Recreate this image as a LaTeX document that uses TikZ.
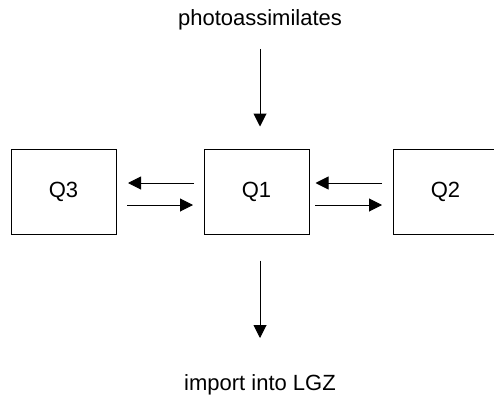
\documentclass[tikz,border=0pt]{standalone}
\usepackage{fontspec}
\setmainfont{Liberation Sans}
\usepackage{tikz}
\usetikzlibrary{arrows.meta}

\begin{document}
\begin{tikzpicture}[x=1pt, y=-1pt, font=\fontsize{22}{26}\selectfont,
    box/.style={draw, line width=1pt, minimum width=105pt, minimum height=85pt, inner sep=0pt},
    arr/.style={line width=1pt, -{Triangle[length=13pt, width=13pt]}}]
    \clip (0,0) rectangle (494,401);

    % Pools
    \node[box] (q3) at (63.5,191.5) {Q3};
    \node[box] (q1) at (256.5,191.5) {Q1};
    \node[box] (q2) at (445.5,191.5) {Q2};

    % Input and output
    \node (photo) at (260,20) {photoassimilates};
    \node (lgz) at (260,385) {import into LGZ};
    \coordinate (inTop) at (260,49);
    \coordinate (outBot) at (260,338);
    \draw[arr, shorten >=22pt] (inTop) -- (inTop |- q1.north);
    \draw[arr, shorten <=26pt] (q1.south -| outBot) -- (outBot);

    % Exchange between pools
    \draw[arr, shorten <=9.5pt, shorten >=11.5pt] ([yshift=8.5pt]q1.west) -- ([yshift=8.5pt]q3.east);
    \draw[arr, shorten <=10.5pt, shorten >=10.5pt] ([yshift=-13.5pt]q3.east) -- ([yshift=-13.5pt]q1.west);
    \draw[arr, shorten <=10.5pt, shorten >=6pt] ([yshift=8.5pt]q2.west) -- ([yshift=8.5pt]q1.east);
    \draw[arr, shorten <=5.5pt, shorten >=10.5pt] ([yshift=-13.5pt]q1.east) -- ([yshift=-13.5pt]q2.west);
\end{tikzpicture}
\end{document}
